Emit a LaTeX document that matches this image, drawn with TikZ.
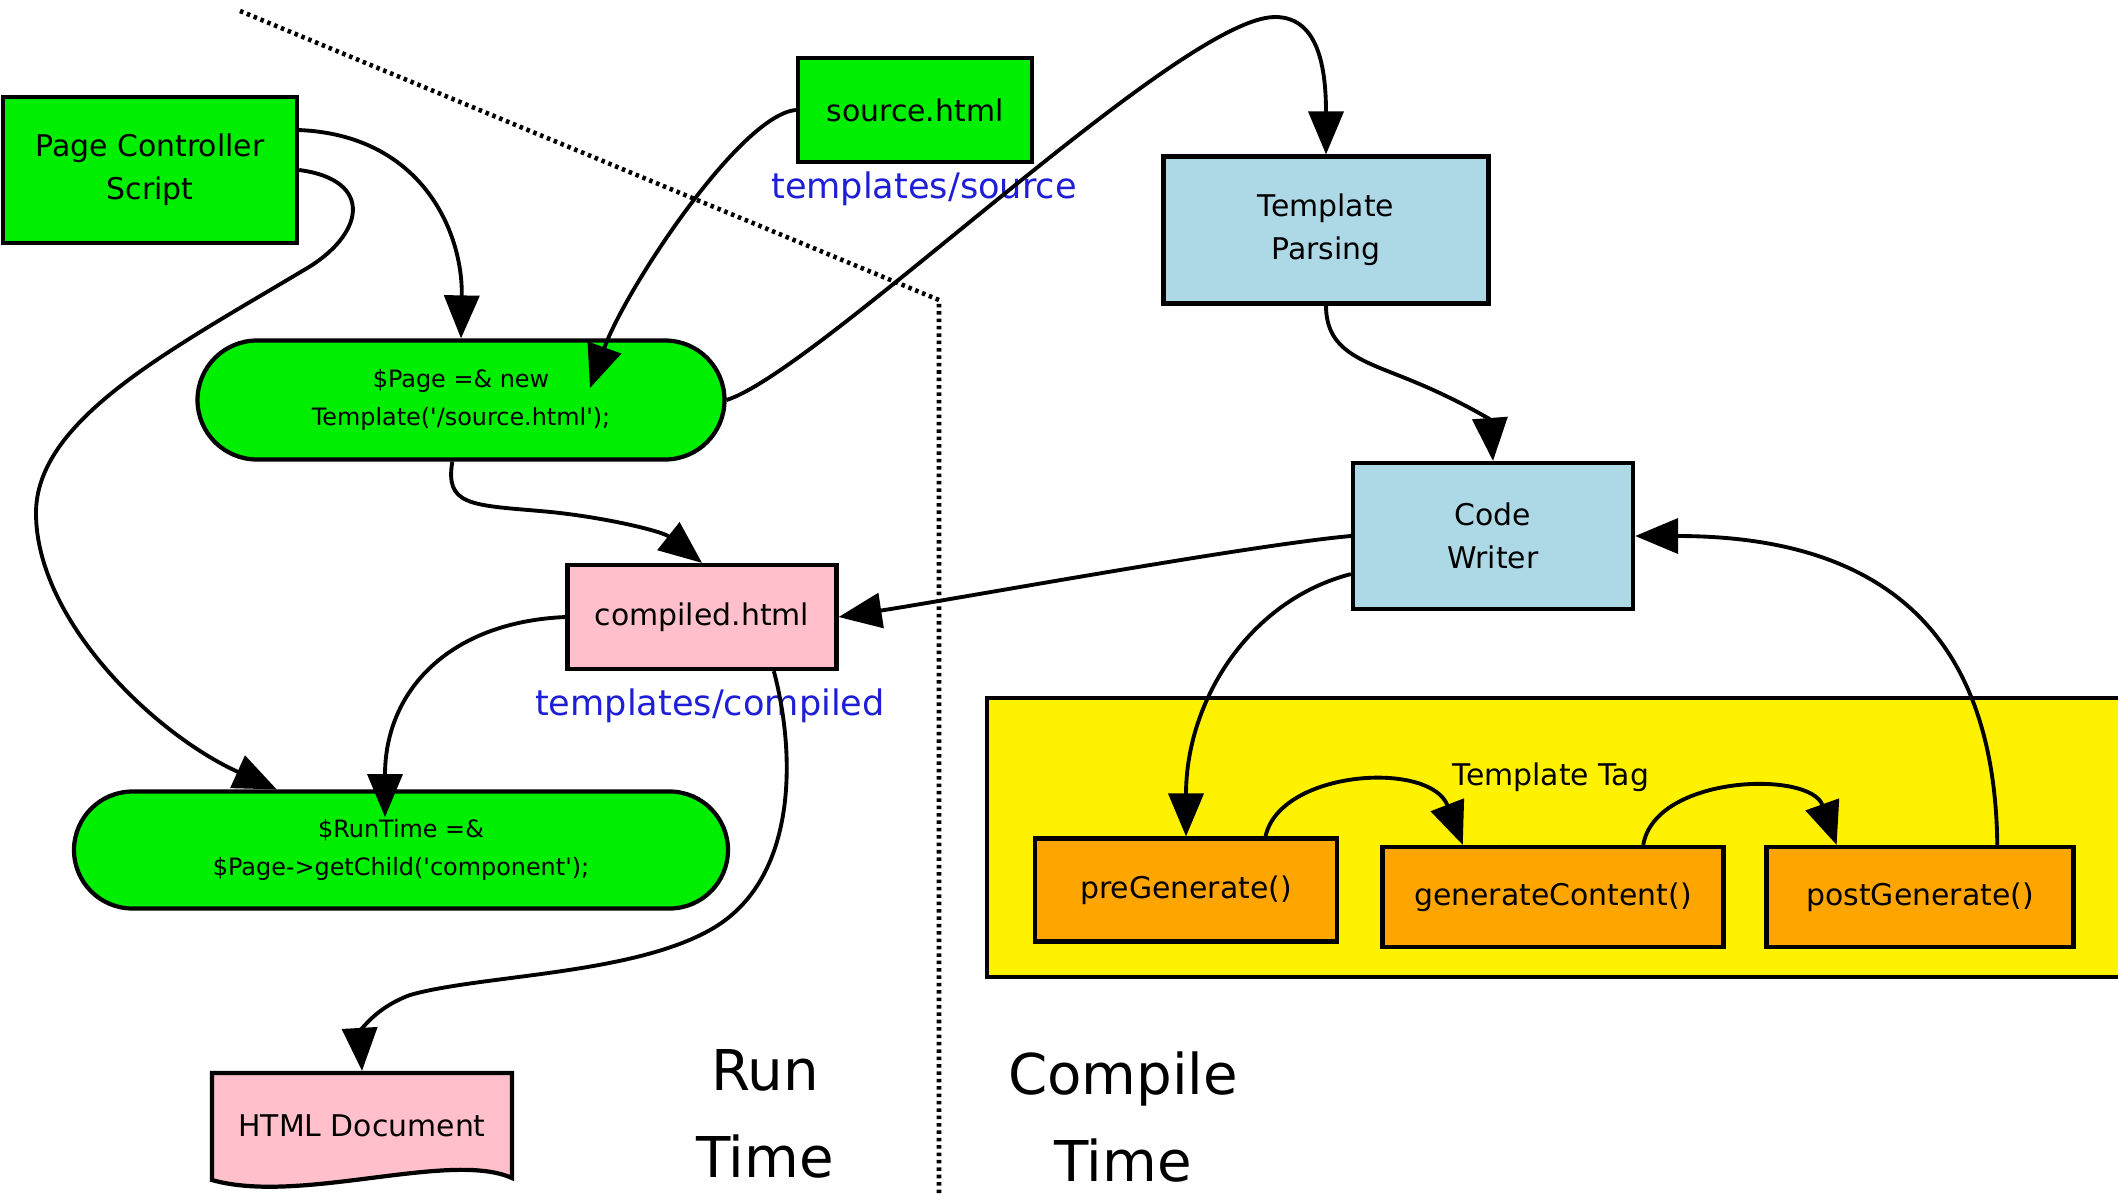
\documentclass[tikz,border=0pt]{standalone}
\usepackage{fontspec}
\setmainfont{DejaVu Sans}
\usetikzlibrary{arrows.meta,shapes.misc,calc}

\definecolor{scriptgreen}{RGB}{0,238,0}
\definecolor{filepink}{RGB}{255,192,203}
\definecolor{steplightblue}{RGB}{173,216,230}
\definecolor{hookorange}{RGB}{255,165,0}
\definecolor{dirblue}{RGB}{30,30,215}

\begin{document}
\begin{tikzpicture}[x=0.1mm,y=-0.1mm]
        \tikzstyle{box}=[draw,line width=1.2pt,inner sep=0pt,align=center,font=\fontsize{8.5}{12.2}\selectfont]
        \tikzstyle{pill}=[box,rounded rectangle,fill=scriptgreen,font=\fontsize{6.8}{10.7}\selectfont]
        \tikzstyle{dir}=[text=dirblue,font=\fontsize{10}{12}\selectfont]
        \tikzstyle{phase}=[align=center,font=\fontsize{16}{24.6}\selectfont]
        \tikzstyle{arr}=[line width=1.1pt,-{Triangle[length=4.3mm,width=3.5mm]}]

        \useasboundingbox (0,0) rectangle (2118,1194);

        % run time / compile time border
        \draw[line width=1.3pt,dash pattern=on 1pt off 1.1pt] (240,11) -- (939,300) -- (939,1194);

        \node[box,fill=scriptgreen,minimum width=29.4mm,minimum height=14.6mm] (ctrl) at (150,170) {Page Controller\\Script};
        \node[box,fill=scriptgreen,minimum width=23.4mm,minimum height=10.4mm] (src) at (915,110) {source.html};
        \node[dir] (srcdir) at (924,189) {templates/source};
        \node[box,fill=steplightblue,minimum width=32.5mm,minimum height=14.7mm] (parse) at (1326,230) {Template\\Parsing};
        \node[pill,minimum width=52.7mm,minimum height=11.9mm] (page) at (461,400) {\$Page =\& new\\Template(\textquotesingle/source.html\textquotesingle);};
        \node[box,fill=steplightblue,minimum width=28mm,minimum height=14.6mm] (writer) at (1493,536) {Code\\Writer};
        \node[box,fill=filepink,minimum width=26.9mm,minimum height=10.4mm] (compiled) at (702,617) {compiled.html};
        \node[dir] (cmpdir) at (710,706) {templates/compiled};
        \node[pill,minimum width=65.4mm,minimum height=11.7mm] (run) at (401,850) {\$RunTime =\&\\\$Page->getChild(\textquotesingle component\textquotesingle);};

        % html document (wavy bottom)
        \draw[line width=1.2pt,fill=filepink] (212,1073) -- (512,1073) -- (512,1178)
            .. controls (450,1150) and (300,1205) .. (212,1180) -- cycle;
        \node[box,draw=none,minimum width=30mm,minimum height=10.5mm] (doc) at (362,1125.5) {HTML Document};

        % template tag cluster
        \node[draw,line width=1.2pt,fill=yellow,minimum width=114.3mm,minimum height=27.9mm] (tag) at (1558.5,837.5) {};
        \node[font=\fontsize{8.5}{10}\selectfont] (taglbl) at (1551,777) {Template Tag};
        \node[box,fill=hookorange,minimum width=30.2mm,minimum height=10.3mm] (pre) at (1186,890) {preGenerate()};
        \node[box,fill=hookorange,minimum width=34.1mm,minimum height=10mm] (gen) at (1553,897) {generateContent()};
        \node[box,fill=hookorange,minimum width=30.7mm,minimum height=10mm] (post) at (1920,897) {postGenerate()};

        \node[phase] (runt) at (765,1114) {Run\\Time};
        \node[phase] (cmpt) at (1123,1117) {Compile\\Time};

        \draw[arr] (ctrl.15) .. controls (420,135) and (463,230) .. (page.north);
        \draw[arr] (ctrl.east) .. controls (375,180) and (365,235) .. (304,270)
            .. controls (170,350) and (36,420) .. (36,513)
            .. controls (36,620) and (154,734) .. (run.154);
        \draw[arr] (src.west) .. controls (740,115) and (625,290) .. ($(page.center)+(129,-12)$);
        \draw[arr] (page.east) .. controls (820,370) and (1180,17) .. (1275,17)
            .. controls (1315,17) and (1326,60) .. (parse.north);
        \draw[arr] (page.262) .. controls (445,505) and (470,505) .. (540,511)
            .. controls (600,516) and (662,531) .. (compiled.north);
        \draw[arr] (parse.south) .. controls (1326,350) and (1360,360) .. (1405,378)
            .. controls (1460,400) and (1490,420) .. (writer.north);
        \draw[arr] (writer.west) .. controls (1250,545) and (950,600) .. (compiled.east);
        \draw[arr] (compiled.west) .. controls (450,622) and (385,690) .. ($(run.center)+(-16,-33)$);
        \draw[arr] (compiled.323) .. controls (795,750) and (800,880) .. (710,930)
            .. controls (630,975) and (480,975) .. (410,995)
            .. controls (370,1010) and (360,1035) .. (doc.north);
        \draw[arr] (writer.195) .. controls (1250,600) and (1186,700) .. (pre.north);
        \draw[arr] (pre.34) .. controls (1280,770) and (1430,760) .. (gen.150);
        \draw[arr] (gen.30) .. controls (1655,775) and (1810,770) .. (post.148);
        \draw[arr] (post.34) .. controls (1995,650) and (1900,536) .. (writer.east);
\end{tikzpicture}
\end{document}
